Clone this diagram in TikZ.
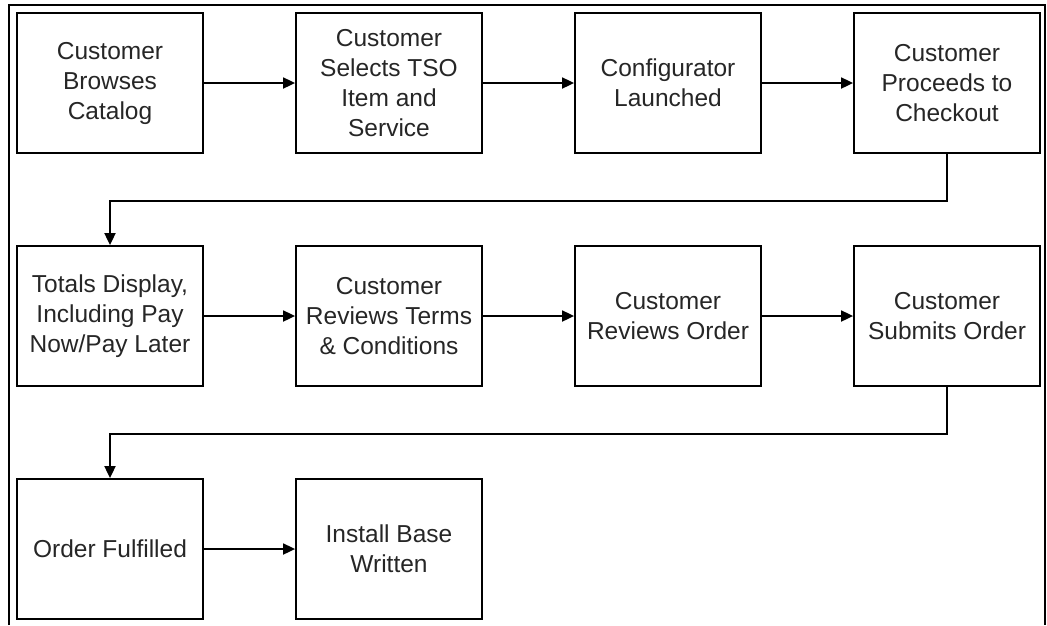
\documentclass[tikz,border=0pt]{standalone}
\usepackage{fontspec}
\setmainfont{Liberation Sans}
\usetikzlibrary{arrows.meta}
\begin{document}
\begin{tikzpicture}[x=1pt,y=-1pt,
  stepbox/.style={draw=black,line width=1.8pt,minimum width=186pt,minimum height=140pt,
    inner sep=0pt,align=center,font=\fontsize{24.5}{30}\selectfont,text=black!85},
  link/.style={draw=black,line width=1.8pt,-{Triangle[length=12pt,width=11pt]}},
  frame/.style={draw=black,line width=1.8pt}]
\useasboundingbox (0,0) rectangle (1047,625);
% outer frame, open at the bottom
\draw[frame] (9,625) -- (9,5) -- (1045,5) -- (1045,625);
% row 1
\node[stepbox] (b1) at (110,83) {Customer\\Browses\\Catalog};
\node[stepbox] (b2) at (389,83) {Customer\\Selects TSO\\Item and\\Service};
\node[stepbox] (b3) at (668,83) {Configurator\\Launched};
\node[stepbox] (b4) at (947,83) {Customer\\Proceeds to\\Checkout};
% row 2
\node[stepbox] (b5) at (110,316) {Totals Display,\\Including Pay\\Now/Pay Later};
\node[stepbox] (b6) at (389,316) {Customer\\Reviews Terms\\\& Conditions};
\node[stepbox] (b7) at (668,316) {Customer\\Reviews Order};
\node[stepbox] (b8) at (947,316) {Customer\\Submits Order};
% row 3
\node[stepbox] (b9) at (110,549) {Order Fulfilled};
\node[stepbox] (b10) at (389,549) {Install Base\\Written};
% connectors
\draw[link] (b1) -- (b2);
\draw[link] (b2) -- (b3);
\draw[link] (b3) -- (b4);
\draw[link] (b4.south) -- ++(0,47) -| (b5.north);
\draw[link] (b5) -- (b6);
\draw[link] (b6) -- (b7);
\draw[link] (b7) -- (b8);
\draw[link] (b8.south) -- ++(0,47) -| (b9.north);
\draw[link] (b9) -- (b10);
\end{tikzpicture}
\end{document}
